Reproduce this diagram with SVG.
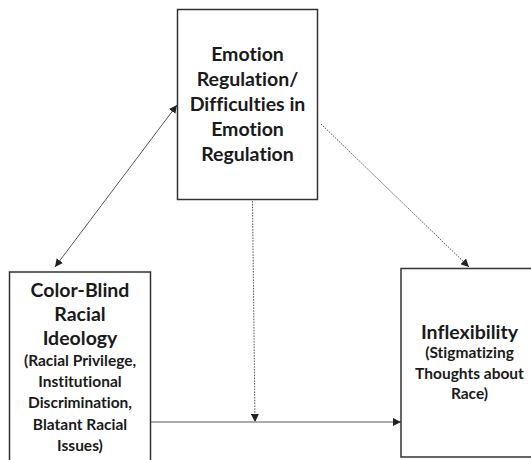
<svg xmlns="http://www.w3.org/2000/svg" width="531" height="460" viewBox="0 0 531 460">
  <defs>
    <marker id="arr" viewBox="0 0 10 10" refX="10" refY="5" markerWidth="8" markerHeight="8" markerUnits="userSpaceOnUse" orient="auto-start-reverse">
      <path d="M0,0 L10,5 L0,10 Z" fill="#222"/>
    </marker>
    <style>
      .box { fill: #fff; stroke: #333; stroke-width: 1.5; }
      .t { font-family: Lato, "Open Sans", "Liberation Sans", sans-serif; font-weight: bold; fill: #1a1a1a; text-anchor: middle; font-variant-ligatures: none; font-feature-settings: "liga" 0, "dlig" 0; }
      .h { font-size: 19.5px; }
      .s { font-size: 15.5px; }
      .c { fill: none; stroke: #444; stroke-width: 0.9; }
      .d { stroke-dasharray: 1.6 1.2; }
    </style>
  </defs>
  <rect width="531" height="460" fill="#fff"/>
  <g id="connectors">
    <line class="c" x1="177" y1="105" x2="55" y2="267" marker-start="url(#arr)" marker-end="url(#arr)"/>
    <line class="c d" x1="321" y1="124" x2="469" y2="267" marker-end="url(#arr)"/>
    <line class="c d" x1="252.5" y1="201" x2="255" y2="422" marker-end="url(#arr)"/>
    <line class="c" x1="151" y1="422" x2="401" y2="422" marker-end="url(#arr)"/>
  </g>
  <g id="emotion-regulation">
    <rect class="box" x="177.5" y="9.5" width="140" height="190"/>
    <text class="t h" x="247.5" y="61">Emotion</text>
    <text class="t h" x="247.5" y="86">Regulation/</text>
    <text class="t h" x="247.5" y="111">Difficulties in</text>
    <text class="t h" x="247.5" y="136">Emotion</text>
    <text class="t h" x="247.5" y="161">Regulation</text>
  </g>
  <g id="color-blind">
    <rect class="box" x="9.5" y="272" width="141" height="200"/>
    <text class="t h" x="80" y="297">Color-Blind</text>
    <text class="t h" x="80" y="321">Racial</text>
    <text class="t h" x="80" y="345">Ideology</text>
    <text class="t s" x="80" y="366">(Racial Privilege,</text>
    <text class="t s" x="80" y="387">Institutional</text>
    <text class="t s" x="80" y="408">Discrimination,</text>
    <text class="t s" x="80" y="430">Blatant Racial</text>
    <text class="t s" x="80" y="451">Issues)</text>
  </g>
  <g id="inflexibility">
    <rect class="box" x="401" y="268.5" width="140" height="188.5"/>
    <text class="t h" x="469.5" y="339">Inflexibility</text>
    <text class="t s" x="469.5" y="358">(Stigmatizing</text>
    <text class="t s" x="469.5" y="379">Thoughts about</text>
    <text class="t s" x="469.5" y="399">Race)</text>
  </g>
</svg>
